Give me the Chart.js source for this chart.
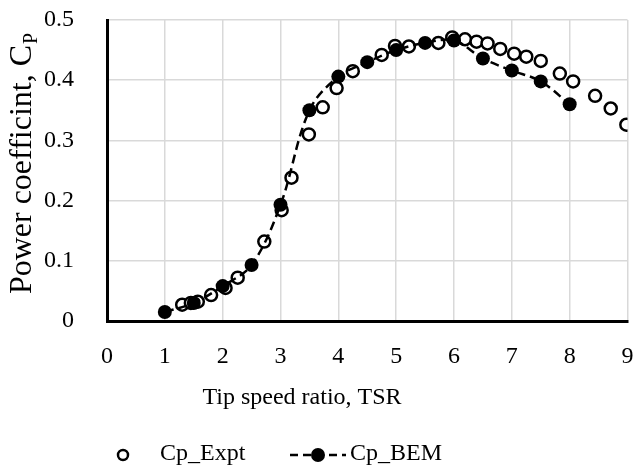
<!DOCTYPE html>
<html lang="en">
<head>
  <meta charset="UTF-8">
  <title>Power coefficient vs TSR</title>
  <script src="https://cdn.jsdelivr.net/npm/chart.js"></script>
  <style>
    * { margin: 0; padding: 0; box-sizing: border-box; }
    body { background: #fff; }
    .wrap { position: relative; width: 636px; height: 473px; }
  </style>
</head>
<body>
  <div class="wrap">
    <canvas id="cpChart"></canvas>
  </div>

  <script>
    // data
    const tsrExpt = [1.3, 1.45, 1.57, 1.8, 2.05, 2.26, 2.72, 3.02, 3.19, 3.49, 3.73, 3.97, 4.25, 4.75, 4.98,
                     5.22, 5.73, 5.97, 6.19, 6.39, 6.58, 6.8, 7.04, 7.25, 7.5, 7.83, 8.06, 8.44, 8.71, 8.98];
    const cpExpt = [0.027, 0.030, 0.032, 0.043, 0.055, 0.072, 0.132, 0.184, 0.238, 0.31, 0.355, 0.387, 0.415, 0.442, 0.457,
                    0.456, 0.462, 0.471, 0.468, 0.464, 0.461, 0.452, 0.444, 0.439, 0.432, 0.411, 0.398, 0.374, 0.353, 0.326];

    const tsrBem = [1, 1.5, 2, 2.5, 3, 3.5, 4, 4.5, 5, 5.5, 6, 6.5, 7, 7.5, 8];
    const cpBem = [0.015, 0.03, 0.058, 0.093, 0.193, 0.35, 0.406, 0.43, 0.45, 0.462, 0.466, 0.436, 0.416, 0.398, 0.36];

    const xTicks = [0, 1, 2, 3, 4, 5, 6, 7, 8, 9];
    const yTicks = [0, 0.1, 0.2, 0.3, 0.4, 0.5];

    const FONT = "'Liberation Serif', 'Times New Roman', serif";

    const toPoints = (xs, ys) => xs.map((x, i) => ({ x: x, y: ys[i] }));

    // axis titles (y one has a subscript P) and the legend
    const extras = {
      id: 'extras',
      afterDraw(chart) {
        const ctx = chart.ctx;
        ctx.save();

        // y axis title
        ctx.translate(23, 164);
        ctx.rotate(-Math.PI / 2);
        ctx.fillStyle = '#000';
        ctx.textBaseline = 'middle';
        const main = 'Power coefficint, C';
        ctx.font = '32px ' + FONT;
        const w1 = ctx.measureText(main).width;
        ctx.font = '20px ' + FONT;
        const w2 = ctx.measureText('P').width;
        const start = -(w1 + w2) / 2;
        ctx.font = '32px ' + FONT;
        ctx.textAlign = 'left';
        ctx.fillText(main, start, 0);
        ctx.font = '20px ' + FONT;
        ctx.fillText('P', start + w1 + 1, 9);
        ctx.restore();

        // x axis title
        ctx.save();
        ctx.fillStyle = '#000';
        ctx.font = '24px ' + FONT;
        ctx.textAlign = 'center';
        ctx.textBaseline = 'middle';
        ctx.fillText('Tip speed ratio, TSR', 302, 398);
        ctx.restore();

        // legend
        const ly = 455;
        ctx.save();
        ctx.lineWidth = 2.5;
        ctx.strokeStyle = '#000';
        ctx.fillStyle = '#fff';
        ctx.beginPath();
        ctx.arc(123, ly, 5, 0, Math.PI * 2);
        ctx.fill();
        ctx.stroke();

        ctx.setLineDash([8, 5]);
        ctx.beginPath();
        ctx.moveTo(290, ly);
        ctx.lineTo(346, ly);
        ctx.stroke();
        ctx.setLineDash([]);
        ctx.fillStyle = '#000';
        ctx.beginPath();
        ctx.arc(318, ly, 7, 0, Math.PI * 2);
        ctx.fill();

        ctx.font = '24px ' + FONT;
        ctx.textBaseline = 'middle';
        ctx.textAlign = 'left';
        ctx.fillText('Cp_Expt', 160, ly - 1);
        ctx.fillText('Cp_BEM', 350, ly - 1);
        ctx.restore();
      }
    };

    const ctx = document.getElementById('cpChart').getContext('2d');
    new Chart(ctx, {
      type: 'scatter',
      data: {
        datasets: [
          {
            label: 'Cp_Expt',
            data: toPoints(tsrExpt, cpExpt),
            showLine: false,
            pointStyle: 'circle',
            pointRadius: 6,
            pointBorderWidth: 2.5,
            pointBorderColor: '#000',
            pointBackgroundColor: '#fff',
            order: 1
          },
          {
            label: 'Cp_BEM',
            data: toPoints(tsrBem, cpBem),
            showLine: true,
            borderColor: '#000',
            borderWidth: 2.5,
            borderDash: [9, 5],
            tension: 0.35,
            pointStyle: 'circle',
            pointRadius: 7,
            pointBorderWidth: 0,
            pointBackgroundColor: '#000',
            order: 0
          }
        ]
      },
      options: {
        responsive: true,
        maintainAspectRatio: false,
        animation: false,
        layout: { padding: { top: 20, right: 7, bottom: 60, left: 0 } },
        plugins: {
          legend: { display: false },
          tooltip: { enabled: false }
        },
        scales: {
          x: {
            type: 'linear',
            min: xTicks[0],
            max: xTicks[xTicks.length - 1],
            afterBuildTicks: (scale) => { scale.ticks = xTicks.map(v => ({ value: v })); },
            afterFit: (scale) => {
              scale.height = 92;
              scale.paddingLeft = 0;
              scale.paddingRight = 0;
            },
            grid: { color: '#d9d9d9', lineWidth: 1.5, drawTicks: false },
            border: { color: '#000', width: 3 },
            ticks: { color: '#000', padding: 21, font: { family: FONT, size: 24 } }
          },
          y: {
            type: 'linear',
            min: yTicks[0],
            max: yTicks[yTicks.length - 1],
            afterBuildTicks: (scale) => { scale.ticks = yTicks.map(v => ({ value: v })); },
            afterFit: (scale) => {
              scale.width = 107;
              scale.paddingTop = 0;
              scale.paddingBottom = 0;
            },
            grid: { color: '#d9d9d9', lineWidth: 1.5, drawTicks: false },
            border: { color: '#000', width: 3 },
            ticks: { color: '#000', padding: 33, font: { family: FONT, size: 24 } }
          }
        }
      },
      plugins: [extras]
    });
  </script>
</body>
</html>
